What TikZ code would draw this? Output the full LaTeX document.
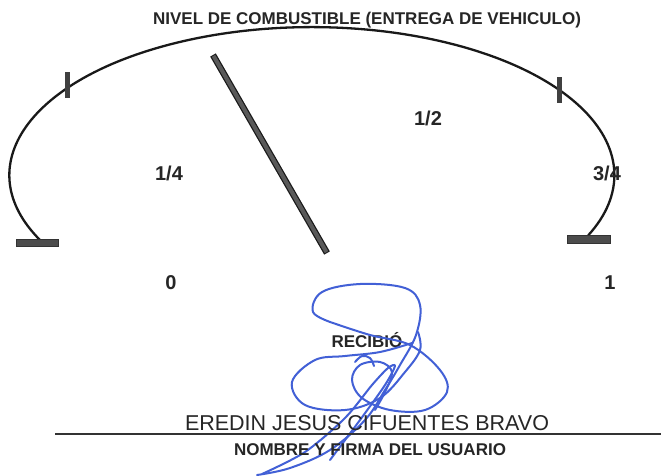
\documentclass[tikz,border=0pt]{standalone}
\usepackage{fontspec}
\setmainfont{Liberation Sans}
\definecolor{inkblue}{RGB}{66,96,214}
\begin{document}
\begin{tikzpicture}[x=1pt,y=-1pt,
  lbl/.style={font=\fontsize{17}{17}\selectfont\bfseries, inner sep=0pt, text=black!85},
  num/.style={font=\fontsize{20}{20}\selectfont\bfseries, inner sep=0pt, text=black!85},
  gauge/.style={line width=2.3pt, black!90},
  tickmark/.style={line width=5pt, black!75},
  basebar/.style={fill=black!70, draw=black!80, line width=0.4pt},
  sig/.style={draw=inkblue, line width=2pt, line cap=round, line join=round},
]
\useasboundingbox (0,0) rectangle (661,475);
\fill[white] (0,0) rectangle (661,475);

% gauge arc
\draw[gauge] (40,240) arc[start angle=206, end angle=-24, x radius=302.5, y radius=-148];

% ticks
\draw[tickmark] (67,72) -- (67,98);
\draw[tickmark] (559,77) -- (559,103);

% base bars
\draw[basebar] (16,239) rectangle (58,246);
\draw[basebar] (567,235) rectangle (610,243);

% needle
\draw[line width=6.5pt, black!90] (213,55) -- (327,253);
\draw[line width=4pt, black!65, shorten <=1pt, shorten >=1pt] (213,55) -- (327,253);

% labels
\node[lbl] (title) at (367,20) {NIVEL DE COMBUSTIBLE (ENTREGA DE VEHICULO)};
\node[num] (half) at (428,118) {1/2};
\node[num] (quarter) at (169,173) {1/4};
\node[num] (threeq) at (607,173) {3/4};
\node[num] (zero) at (171,283) {0};
\node[num] (one) at (610,283) {1};
\node[lbl] (recibio) at (367,340) {RECIBIÓ};

% signature
\draw[sig] plot[smooth, tension=0.6] coordinates {(333,323) (313,312) (322,292) (360,284) (405,288) (420,305) (416,335) (400,365) (385,390) (365,420) (330,450) (290,468) (257,475)};
\draw[sig] plot[smooth, tension=0.6] coordinates {(333,323) (370,335) (410,345) (440,370) (447,392) (425,410) (390,410) (362,398) (352,380) (360,365) (380,362) (392,372) (385,392) (375,410)};
\draw[sig] plot[smooth, tension=0.6] coordinates {(412,343) (380,352) (345,356) (315,360) (292,382) (305,405) (345,410) (380,398) (405,372) (420,350) (418,332)};
\draw[sig] plot[smooth, tension=0.6] coordinates {(355,362) (362,356) (370,358) (374,366)};
\draw[sig] plot[smooth, tension=0.5] coordinates {(262,474) (305,452) (345,418) (372,385) (388,368) (395,366) (385,385) (360,420) (330,460)};

% name and line
\node[font=\fontsize{21.5}{21.5}\selectfont, inner sep=0pt, text=black!85] (name) at (367,423) {EREDIN JESUS CIFUENTES BRAVO};
\coordinate (lineL) at (55,434);
\coordinate (lineR) at (661,434);
\draw[line width=2pt, black!80] (lineL) -- (lineR);
\node[lbl] (firma) at (370,450) {NOMBRE Y FIRMA DEL USUARIO};
\end{tikzpicture}
\end{document}
